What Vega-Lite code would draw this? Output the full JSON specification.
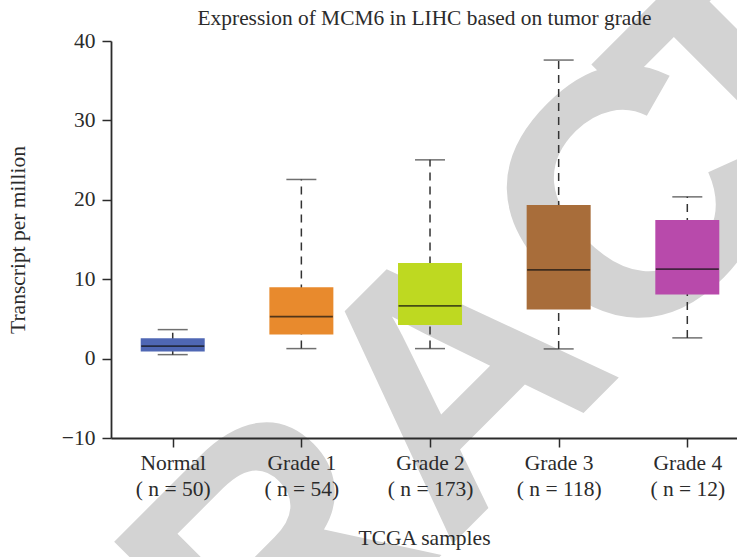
{
  "$schema": "https://vega.github.io/schema/vega-lite/v6.json",
  "autosize": {"type": "none"},
  "width": 626,
  "height": 397,
  "padding": {"left": 111, "top": 41, "right": 0, "bottom": 119},
  "background": "white",
  "config": {
    "view": {"stroke": null},
    "axis": {"grid": false, "zindex": 2}
  },
  "datasets": {
    "boxes": [
      {"group": "Normal\n( n = 50)", "lower": 0.5, "q1": 0.88, "median": 1.56, "q3": 2.57, "upper": 3.65},
      {"group": "Grade 1\n( n = 54)", "lower": 1.26, "q1": 3.02, "median": 5.29, "q3": 8.99, "upper": 22.56},
      {"group": "Grade 2\n( n = 173)", "lower": 1.26, "q1": 4.24, "median": 6.64, "q3": 12.05, "upper": 25.03},
      {"group": "Grade 3\n( n = 118)", "lower": 1.22, "q1": 6.17, "median": 11.17, "q3": 19.36, "upper": 37.6},
      {"group": "Grade 4\n( n = 12)", "lower": 2.61, "q1": 8.06, "median": 11.26, "q3": 17.47, "upper": 20.37}
    ],
    "watermark": [{"text": "RETRAC", "part": "head"}, {"text": "TED", "part": "tail"}]
  },
  "layer": [
    {
      "data": {"name": "watermark"},
      "transform": [{"filter": "datum.part == 'head'"}],
      "mark": {"type": "text", "font": "Liberation Sans", "fontWeight": "bold", "fontSize": 350, "color": "#d3d3d3", "angle": -45, "align": "right", "baseline": "middle", "dx": 424},
      "encoding": {
        "x": {"datum": "Grade 2\n( n = 173)", "type": "nominal", "axis": null},
        "y": {"datum": -7.47, "type": "quantitative"},
        "text": {"field": "text"}
      }
    },
    {
      "data": {"name": "watermark"},
      "transform": [{"filter": "datum.part == 'tail'"}],
      "mark": {"type": "text", "font": "Liberation Sans", "fontWeight": "bold", "fontSize": 350, "color": "#d3d3d3", "angle": -45, "align": "left", "baseline": "middle", "dx": 360},
      "encoding": {
        "x": {"datum": "Grade 2\n( n = 173)", "type": "nominal", "axis": null},
        "y": {"datum": -7.47, "type": "quantitative"},
        "text": {"field": "text"}
      }
    },
    {
      "data": {"name": "boxes"},
      "mark": {"type": "rule", "color": "#333333", "strokeWidth": 1.5, "strokeDash": [8, 6]},
      "encoding": {
        "x": {
          "field": "group",
          "type": "nominal",
          "axis": {
            "orient": "top",
            "zindex": 2,
            "title": "Expression of MCM6 in LIHC based on tumor grade",
            "domain": false,
            "ticks": false,
            "labels": false,
            "titleFont": "Liberation Serif",
            "titleFontSize": 21.4,
            "titleFontWeight": "normal",
            "titleColor": "#2b2b2b",
            "titleBaseline": "alphabetic",
            "titlePadding": 17
          }
        },
        "y": {"field": "lower", "type": "quantitative"},
        "y2": {"field": "upper"}
      }
    },
    {
      "data": {"name": "boxes"},
      "mark": {"type": "tick", "color": "#333333", "thickness": 1.5, "size": 30, "orient": "horizontal"},
      "encoding": {
        "x": {"field": "group", "type": "nominal", "axis": null},
        "y": {"field": "lower", "type": "quantitative"}
      }
    },
    {
      "data": {"name": "boxes"},
      "mark": {"type": "tick", "color": "#333333", "thickness": 1.5, "size": 30, "orient": "horizontal"},
      "encoding": {
        "x": {"field": "group", "type": "nominal", "axis": null},
        "y": {"field": "upper", "type": "quantitative"}
      }
    },
    {
      "data": {"name": "boxes"},
      "mark": {"type": "bar", "size": 64},
      "encoding": {
        "x": {"field": "group", "type": "nominal", "axis": null},
        "y": {"field": "q1", "type": "quantitative"},
        "y2": {"field": "q3"},
        "color": {
          "field": "group",
          "type": "nominal",
          "legend": null,
          "scale": {
            "domain": ["Normal\n( n = 50)", "Grade 1\n( n = 54)", "Grade 2\n( n = 173)", "Grade 3\n( n = 118)", "Grade 4\n( n = 12)"],
            "range": ["#4f67b4", "#e88a2d", "#bed921", "#a86d3a", "#b84aab"]
          }
        }
      }
    },
    {
      "data": {"name": "boxes"},
      "mark": {"type": "tick", "color": "#111111", "thickness": 1.8, "size": 63, "orient": "horizontal"},
      "encoding": {
        "x": {
          "field": "group",
          "type": "nominal",
          "sort": null,
          "scale": {
            "type": "point",
            "domain": ["Normal\n( n = 50)", "Grade 1\n( n = 54)", "Grade 2\n( n = 173)", "Grade 3\n( n = 118)", "Grade 4\n( n = 12)"],
            "padding": 0.433,
            "align": 0.554
          },
          "axis": {
            "orient": "bottom",
            "zindex": 2,
            "title": "TCGA samples",
            "labelAngle": 0,
            "labelExpr": "split(datum.label, '\\n')",
            "labelFont": "Liberation Serif",
            "labelFontSize": 21.5,
            "labelColor": "#2b2b2b",
            "labelLineHeight": 26.5,
            "labelPadding": 5,
            "labelAlign": "center",
            "tickSize": 9,
            "tickWidth": 1.5,
            "tickColor": "#2b2b2b",
            "domainColor": "#2b2b2b",
            "domainWidth": 1.8,
            "titleFont": "Liberation Serif",
            "titleFontSize": 21.5,
            "titleFontWeight": "normal",
            "titleColor": "#2b2b2b",
            "titlePadding": 27
          }
        },
        "y": {
          "field": "median",
          "type": "quantitative",
          "scale": {"domain": [-10, 40], "nice": false, "zero": false},
          "axis": {
            "zindex": 2,
            "title": "Transcript per million",
            "values": [-10, 0, 10, 20, 30, 40],
            "labelFont": "Liberation Serif",
            "labelFontSize": 21.5,
            "labelColor": "#2b2b2b",
            "labelPadding": 7,
            "tickSize": 9,
            "tickWidth": 1.5,
            "tickColor": "#2b2b2b",
            "domainColor": "#2b2b2b",
            "domainWidth": 1.8,
            "titleFont": "Liberation Serif",
            "titleFontSize": 21.5,
            "titleFontWeight": "normal",
            "titleColor": "#2b2b2b",
            "titlePadding": 32
          }
        }
      }
    }
  ]
}
